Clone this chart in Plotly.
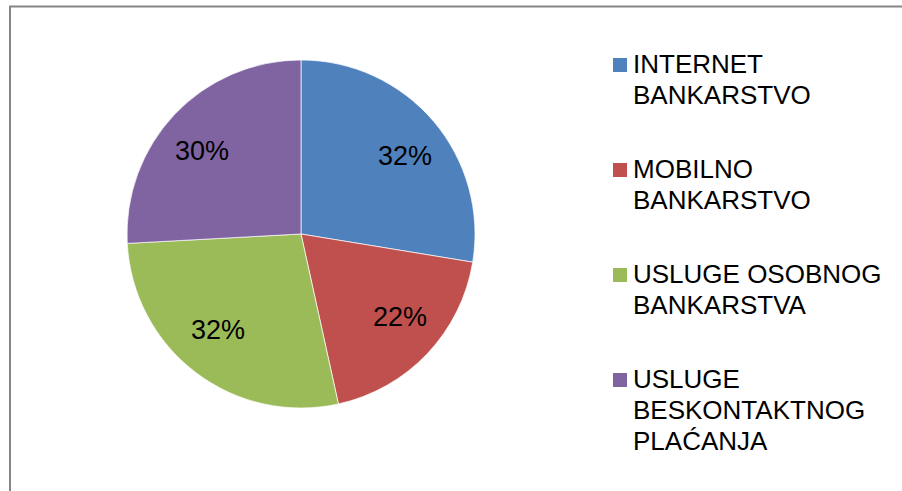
import math
import plotly.graph_objects as go

labels = ["INTERNET BANKARSTVO", "MOBILNO BANKARSTVO", "USLUGE OSOBNOG BANKARSTVA", "USLUGE BESKONTAKTNOG PLAĆANJA"]
legend_lines = [["INTERNET", "BANKARSTVO"], ["MOBILNO", "BANKARSTVO"],
                ["USLUGE OSOBNOG", "BANKARSTVA"], ["USLUGE", "BESKONTAKTNOG", "PLAĆANJA"]]
values = [32, 22, 32, 30]
colors = ["#4F81BD", "#C0504D", "#9BBB59", "#8064A2"]

W, H = 902, 491
def px(x): return x / W
def py(y): return 1 - y / H

CX, CY, R = 301, 234, 174

fig = go.Figure(go.Pie(
    labels=labels, values=values, sort=False, direction="clockwise", rotation=0,
    textinfo="none",
    marker=dict(colors=colors, line=dict(color="white", width=0.7)),
    domain=dict(x=[px(CX - R), px(CX + R)], y=[py(CY + R), py(CY - R)]),
    showlegend=False, hoverinfo="label+value",
))

annotations = []
# data labels placed along each slice's mid-angle (label box is wider than tall)
total = sum(values)
cum = 0
for v in values:
    mid = (cum + v / 2) / total * 2 * math.pi
    cum += v
    lx = CX + 0.787 * R * math.sin(mid)
    ly = CY - 0.69 * R * math.cos(mid)
    annotations.append(dict(text=f"{v}%", xref="paper", yref="paper", x=px(lx), y=py(ly),
                            xanchor="center", yanchor="middle", showarrow=False,
                            font=dict(family="Liberation Sans, Arial", size=27, color="black")))

shapes = [dict(type="rect", xref="paper", yref="paper", x0=px(10), y0=-0.1, x1=1.1, y1=py(6.5),
               line=dict(color="#868686", width=2), fillcolor="rgba(0,0,0,0)")]
first_line_y = 64
entry_gap = 105
line_gap = 31
for i, lines in enumerate(legend_lines):
    y0 = first_line_y + i * entry_gap
    shapes.append(dict(type="rect", xref="paper", yref="paper",
                       x0=px(613), x1=px(627), y0=py(y0 + 8), y1=py(y0 - 6),
                       line=dict(width=0), fillcolor=colors[i]))
    for j, t in enumerate(lines):
        annotations.append(dict(text=t, xref="paper", yref="paper", x=px(631), y=py(y0 + j * line_gap),
                                xanchor="left", yanchor="middle", showarrow=False,
                                font=dict(family="Liberation Sans, Arial", size=26, color="black")))

fig.update_layout(width=W, height=H, margin=dict(l=0, r=0, t=0, b=0),
                  paper_bgcolor="white", plot_bgcolor="white",
                  shapes=shapes, annotations=annotations)
fig.write_html("out.html", config={"displayModeBar": False},
               post_script="document.body.style.margin='0px';")
